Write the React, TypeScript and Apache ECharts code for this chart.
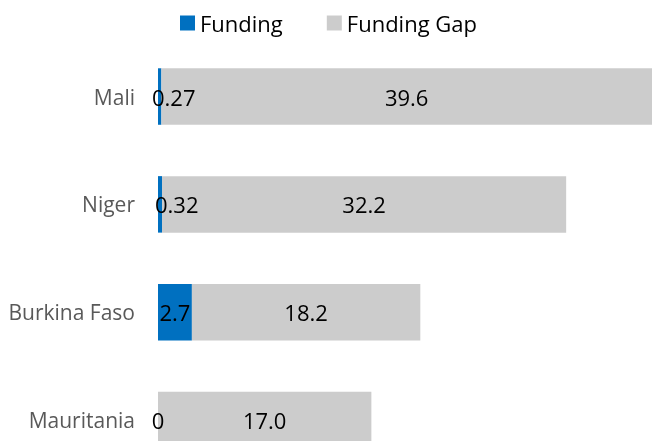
import React, { useEffect, useRef } from "react";
import * as echarts from "echarts";

const categories = ["Mali", "Niger", "Burkina Faso", "Mauritania"];
const funding = [0.27, 0.32, 2.7, 0];
const fundingGap = [39.6, 32.2, 18.2, 17.0];
const fundingLabels = ["0.27", "0.32", "2.7", "0"];
const gapLabels = ["39.6", "32.2", "18.2", "17.0"];

const FONT = "'Open Sans', sans-serif";

export default function App() {
  const ref = useRef<HTMLDivElement>(null);
  useEffect(() => {
    if (!ref.current) return;
    const chart = echarts.init(ref.current, undefined, { renderer: "svg" });
    const fundPos: any[] = [
      { position: [-6, "50%"], align: "left", verticalAlign: "middle" },
      { position: [-3, "50%"], align: "left", verticalAlign: "middle" },
      { position: "inside" },
      { position: [0, "50%"], align: "center", verticalAlign: "middle" },
    ];
    chart.setOption({
      animation: false,
      textStyle: { fontFamily: FONT },
      legend: {
        left: 175,
        top: 7,
        itemWidth: 15,
        itemHeight: 15,
        itemGap: 44,
        icon: "rect",
        textStyle: { fontSize: 22, color: "#000", fontFamily: FONT },
        data: ["Funding", "Funding Gap"],
      },
      grid: { left: 158, right: 0, top: 42.6, bottom: 0 },
      xAxis: { type: "value", min: 0, max: 39.36, show: false },
      yAxis: {
        type: "category",
        inverse: true,
        data: categories,
        axisLine: { show: false },
        axisTick: { show: false },
        splitLine: { show: false },
        axisLabel: { margin: 23, color: "#595959", fontSize: 21, fontFamily: FONT },
      },
      series: [
        {
          name: "Funding",
          type: "bar",
          stack: "total",
          barWidth: 56.5,
          itemStyle: { color: "#0070C0" },
          data: funding.map((v, i) => ({
            value: v,
            label: {
              show: true,
              formatter: fundingLabels[i],
              color: "#000",
              fontSize: 22,
              fontFamily: FONT,
              ...fundPos[i],
            },
          })),
        },
        {
          name: "Funding Gap",
          type: "bar",
          stack: "total",
          barWidth: 56.5,
          itemStyle: { color: "#CCCCCC" },
          data: fundingGap.map((v, i) => ({
            value: v,
            label: {
              show: true,
              position: "inside",
              formatter: gapLabels[i],
              color: "#000",
              fontSize: 22,
              fontFamily: FONT,
            },
          })),
        },
      ],
    });
    return () => chart.dispose();
  }, []);
  return (
    <div style={{ position: "fixed", left: 0, top: 0, width: 652, height: 441, overflow: "hidden" }}>
      <div ref={ref} style={{ width: 652, height: 474 }} />
    </div>
  );
}
